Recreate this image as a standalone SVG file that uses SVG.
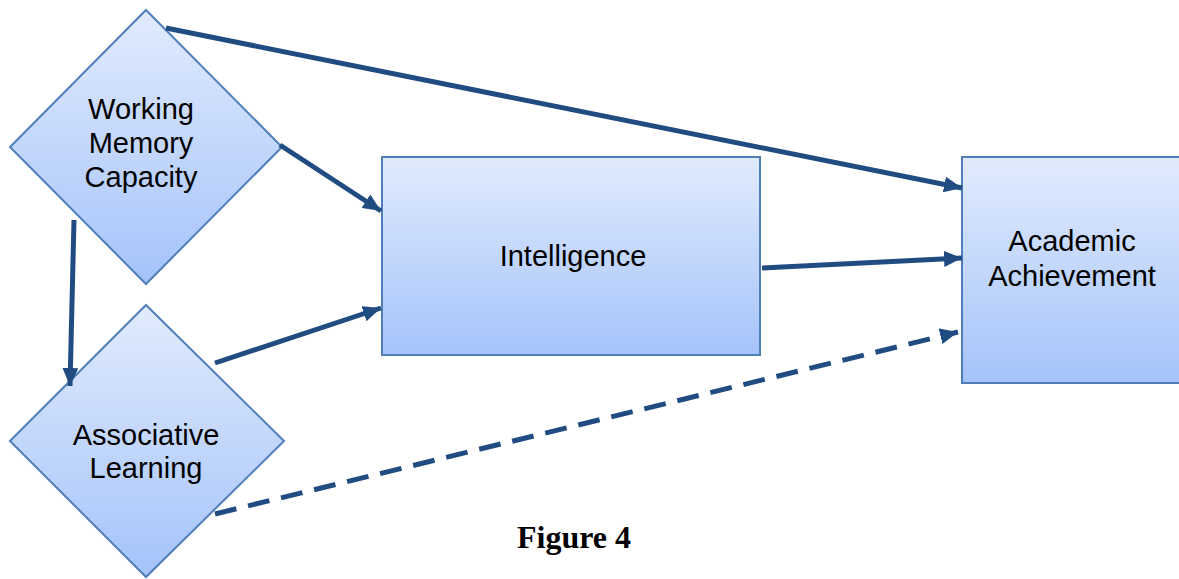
<svg xmlns="http://www.w3.org/2000/svg" width="1179" height="579" viewBox="0 0 1179 579">
<style>
.node{stroke:#4F7EBB;stroke-width:2;fill:url(#g)}
.lbl{font-family:"Liberation Sans",Arial,sans-serif;font-size:29px;fill:#000;text-anchor:middle}
.c{stroke:#214C82;stroke-width:5;fill:none;marker-end:url(#ah)}
.d{stroke-dasharray:22 12}
.fig{font-family:"Liberation Serif","Times New Roman",serif;font-size:32px;font-weight:bold;text-anchor:middle;fill:#000}
</style>
<defs>
<linearGradient id="g" x1="0" y1="0" x2="0" y2="1">
<stop offset="0" stop-color="#E1EBFD"/>
<stop offset="1" stop-color="#A5C3FA"/>
</linearGradient>
<marker id="ah" markerUnits="userSpaceOnUse" markerWidth="20" markerHeight="16" refX="18" refY="8" orient="auto">
<path d="M0,0 L18,8 L0,16 Z" fill="#214C82"/>
</marker>
</defs>
<rect width="1179" height="579" fill="#fff"/>
<g id="wmc">
<polygon class="node" points="146,10 282,147 146,284 10,147"/>
<text class="lbl" x="141" y="119">Working</text>
<text class="lbl" x="141" y="153">Memory</text>
<text class="lbl" x="141" y="187">Capacity</text>
</g>
<g id="assoc">
<polygon class="node" points="146,305 284,441 146,577 10,441"/>
<text class="lbl" x="146" y="445">Associative</text>
<text class="lbl" x="146" y="478">Learning</text>
</g>
<g id="intel">
<rect class="node" x="382" y="157" width="378" height="198"/>
<text class="lbl" x="573" y="266">Intelligence</text>
</g>
<g id="acad">
<rect class="node" x="962" y="157" width="222" height="226"/>
<text class="lbl" x="1072" y="251">Academic</text>
<text class="lbl" x="1072" y="286">Achievement</text>
</g>
<g id="connectors">
<line class="c" x1="166" y1="28" x2="962" y2="188"/>
<line class="c" x1="280" y1="145" x2="381" y2="211"/>
<line class="c" x1="74" y1="220" x2="70" y2="386"/>
<line class="c" x1="215" y1="363" x2="381" y2="308"/>
<line class="c" x1="762" y1="268" x2="962" y2="258"/>
<line class="c d" x1="215" y1="514" x2="958" y2="332"/>
</g>
<text class="fig" x="574" y="548">Figure 4</text>
</svg>
